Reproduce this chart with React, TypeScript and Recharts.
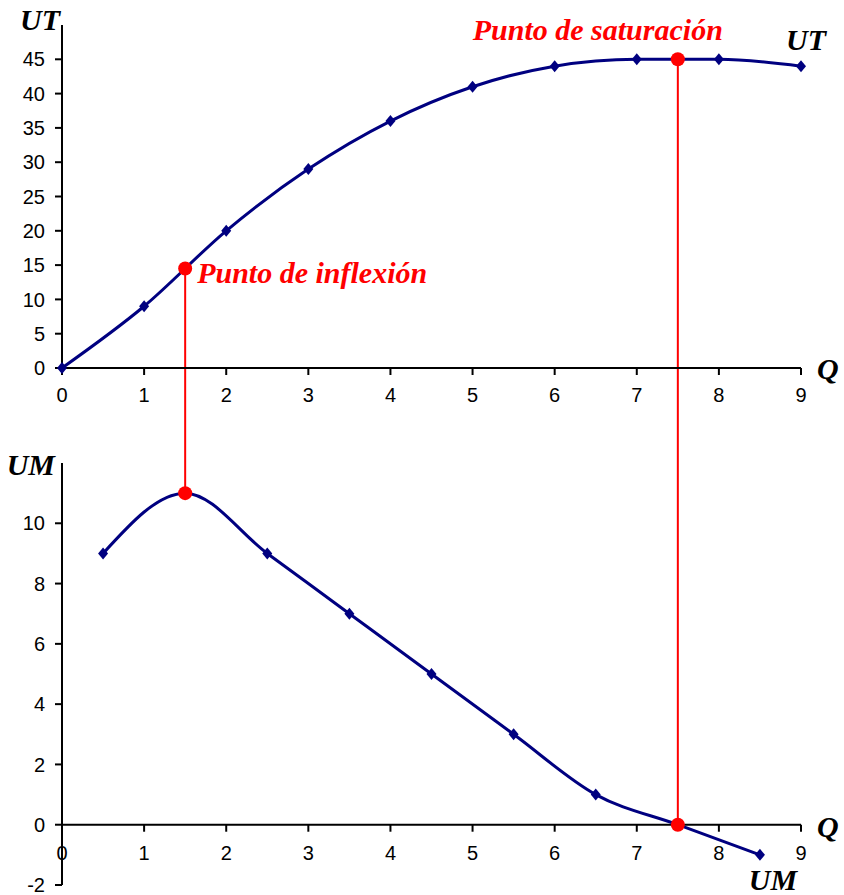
import React from 'react';
import { LineChart, Line, XAxis, YAxis, ReferenceLine, ReferenceDot } from 'recharts';

const qTotal = [0, 1, 2, 3, 4, 5, 6, 7, 8, 9];
const utValues = [0, 9, 20, 29, 36, 41, 44, 45, 45, 44];
const qMarginal = [0.5, 1.5, 2.5, 3.5, 4.5, 5.5, 6.5, 7.5, 8.5];
const umValues = [9, 11, 9, 7, 5, 3, 1, 0, -1];
const xTicks = [0, 1, 2, 3, 4, 5, 6, 7, 8, 9];
const utTicks = [0, 5, 10, 15, 20, 25, 30, 35, 40, 45];
const umTicks = [-2, 0, 2, 4, 6, 8, 10];
const inflexion = { q: 1.5, ut: 14.5, um: 11, label: 'Punto de inflexión' };
const saturacion = { q: 7.5, ut: 45, um: 0, label: 'Punto de saturación' };

const utData = qTotal.map((q, i) => ({ q, ut: utValues[i] }));
const umData = qMarginal.map((q, i) => ({ q, um: umValues[i] }));

const NAVY = '#000080';
const RED = '#ff0000';
const SANS = '"Liberation Sans", Arial, sans-serif';
const SERIF = '"Liberation Serif", "Times New Roman", serif';

const titleStyle: any = {
  fontFamily: SERIF,
  fontWeight: 'bold',
  fontStyle: 'italic',
  fontSize: 30,
};

const Diamond = (props: any) => {
  const { cx, cy, index } = props;
  if (cx == null || cy == null) return <g key={`e${index}`} />;
  return (
    <path
      key={`d${index}`}
      d={`M${cx},${cy - 6}L${cx + 5},${cy}L${cx},${cy + 6}L${cx - 5},${cy}Z`}
      fill={NAVY}
    />
  );
};

const center = (vb: any) => ({ cx: vb.x + (vb.width || 0) / 2, cy: vb.y + (vb.height || 0) / 2 });

const renderYTitle = (text: string, dx: number, dy: number) => (props: any) => {
  const vb = props.viewBox;
  return (
    <text x={vb.x + vb.width + dx} y={vb.y + dy} textAnchor="end" fill="#000" style={titleStyle}>
      {text}
    </text>
  );
};

const renderQTop = (props: any) => {
  const vb = props.viewBox;
  return (
    <text x={vb.x + vb.width + 16} y={vb.y + 11} textAnchor="start" fill="#000" style={titleStyle}>
      Q
    </text>
  );
};

const renderQBottom = (props: any) => {
  const vb = props.viewBox;
  return (
    <text x={vb.x + vb.width + 16} y={vb.y + 12} textAnchor="start" fill="#000" style={titleStyle}>
      Q
    </text>
  );
};

const renderEndLabel = (text: string, dx: number, dy: number) => (props: any) => {
  const { cx, cy } = center(props.viewBox);
  return (
    <text x={cx + dx} y={cy + dy} textAnchor="middle" fill="#000" style={titleStyle}>
      {text}
    </text>
  );
};

const renderRedLabel = (text: string, dx: number, dy: number, anchor: string) => (props: any) => {
  const { cx, cy } = center(props.viewBox);
  return (
    <text x={cx + dx} y={cy + dy} textAnchor={anchor as any} fill={RED} style={titleStyle}>
      {text}
    </text>
  );
};

const renderBottomXTick = (t: number) => (props: any) => {
  const { cx, cy } = props;
  return (
    <g>
      <line x1={cx} y1={cy} x2={cx} y2={cy + 7} stroke="#000" strokeWidth={2} />
      <text x={cx} y={cy + 35} textAnchor="middle" fill="#000" fontSize={20} fontFamily={SANS}>
        {t}
      </text>
    </g>
  );
};

const axisLine = { stroke: '#000', strokeWidth: 2 };
const tickStyle = { fill: '#000', fontSize: 20, fontFamily: SANS };

export default function App() {
  return (
    <div style={{ position: 'absolute', left: 0, top: 0, width: 844, height: 895, background: '#fff' }}>
      <div style={{ position: 'absolute', left: 0, top: 0 }}>
        <LineChart width={844} height={440} data={utData} margin={{ top: 25, right: 43, left: 0, bottom: 42 }}>
          <XAxis
            dataKey="q"
            type="number"
            domain={[0, 9]}
            ticks={xTicks}
            interval={0}
            height={30}
            axisLine={axisLine}
            tickLine={axisLine}
            tickSize={7}
            tickMargin={13}
            tick={tickStyle}
            label={renderQTop}
          />
          <YAxis
            type="number"
            domain={[0, 50]}
            ticks={utTicks}
            interval={0}
            width={62}
            axisLine={axisLine}
            tickLine={axisLine}
            tickSize={7}
            tickMargin={10}
            tick={tickStyle}
            label={renderYTitle('UT', -2, 5)}
          />
          <ReferenceLine
            segment={[{ x: inflexion.q, y: inflexion.ut }, { x: inflexion.q, y: -12 }]}
            stroke={RED}
            strokeWidth={2}
            ifOverflow="visible"
          />
          <ReferenceLine
            segment={[{ x: saturacion.q, y: saturacion.ut }, { x: saturacion.q, y: -12 }]}
            stroke={RED}
            strokeWidth={2}
            ifOverflow="visible"
          />
          <Line
            dataKey="ut"
            type="monotone"
            stroke={NAVY}
            strokeWidth={3}
            dot={Diamond}
            activeDot={false}
            isAnimationActive={false}
          />
          <ReferenceDot
            x={inflexion.q}
            y={inflexion.ut}
            r={7}
            fill={RED}
            stroke="none"
            label={renderRedLabel(inflexion.label, 12, 14, 'start')}
          />
          <ReferenceDot
            x={saturacion.q}
            y={saturacion.ut}
            r={7}
            fill={RED}
            stroke="none"
            label={renderRedLabel(saturacion.label, 45, -19, 'end')}
          />
          <ReferenceDot
            x={qTotal[qTotal.length - 1]}
            y={utValues[utValues.length - 1]}
            r={0}
            fill="none"
            stroke="none"
            label={renderEndLabel('UT', 5, -16)}
          />
        </LineChart>
      </div>
      <div style={{ position: 'absolute', left: 0, top: 440 }}>
        <LineChart width={844} height={455} data={umData} margin={{ top: 23, right: 43, left: 0, bottom: 10 }}>
          <XAxis dataKey="q" type="number" domain={[0, 9]} ticks={xTicks} hide />
          <YAxis
            type="number"
            domain={[-2, 12]}
            ticks={umTicks}
            interval={0}
            width={62}
            axisLine={axisLine}
            tickLine={axisLine}
            tickSize={7}
            tickMargin={10}
            tick={tickStyle}
            label={renderYTitle('UM', -7, 12)}
          />
          <ReferenceLine y={0} stroke="#000" strokeWidth={2} label={renderQBottom} />
          {xTicks.map((t) => (
            <ReferenceDot key={`xt${t}`} x={t} y={0} r={1} shape={renderBottomXTick(t)} />
          ))}
          <ReferenceLine
            segment={[{ x: inflexion.q, y: inflexion.um }, { x: inflexion.q, y: 14 }]}
            stroke={RED}
            strokeWidth={2}
            ifOverflow="visible"
          />
          <ReferenceLine
            segment={[{ x: saturacion.q, y: saturacion.um }, { x: saturacion.q, y: 14 }]}
            stroke={RED}
            strokeWidth={2}
            ifOverflow="visible"
          />
          <Line
            dataKey="um"
            type="monotone"
            stroke={NAVY}
            strokeWidth={3}
            dot={Diamond}
            activeDot={false}
            isAnimationActive={false}
          />
          <ReferenceDot x={inflexion.q} y={inflexion.um} r={7} fill={RED} stroke="none" />
          <ReferenceDot x={saturacion.q} y={saturacion.um} r={7} fill={RED} stroke="none" />
          <ReferenceDot
            x={qMarginal[qMarginal.length - 1]}
            y={umValues[umValues.length - 1]}
            r={0}
            fill="none"
            stroke="none"
            label={renderEndLabel('UM', 13, 35)}
          />
        </LineChart>
      </div>
    </div>
  );
}
